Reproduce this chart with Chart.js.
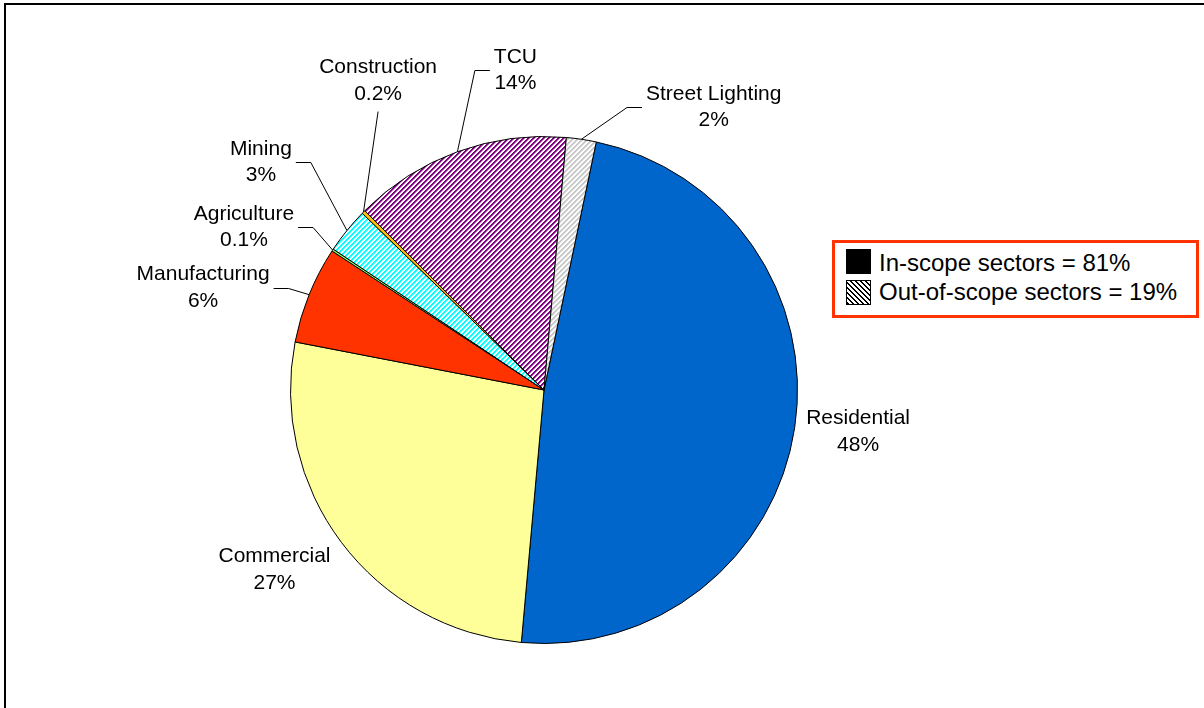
<!DOCTYPE html>
<html><head><meta charset="utf-8">
<script src="https://cdn.jsdelivr.net/npm/chart.js@4/dist/chart.umd.min.js"></script>
<style>
html,body{margin:0;padding:0;width:1204px;height:708px;overflow:hidden;background:#fff;font-family:"Liberation Sans",Arial,sans-serif;}
#frame{position:absolute;left:4px;top:3px;width:1400px;height:900px;border:2px solid #000;box-sizing:border-box}
#chart{position:absolute;left:0;top:0}
#legend{position:absolute;left:832px;top:240px;width:367px;height:78px;border:3px solid #FF3300;box-sizing:border-box;background:#fff}
.sw{position:absolute;left:11px;width:25px;height:25px;box-sizing:border-box;border:1px solid #000}
.lt{position:absolute;left:44px;line-height:28px;height:28px;font-size:24px;color:#000;white-space:nowrap}
</style></head>
<body>
<div id="frame"></div>
<canvas id="chart" width="1204" height="708"></canvas>
<div id="legend">
  <div class="sw" style="top:6px;background:#000"></div>
  <div class="lt" id="lt0" style="top:6px"></div>
  <div class="sw" style="top:37px;background:repeating-linear-gradient(45deg,#000 0 1.6px,#fff 1.6px 3.6px)"></div>
  <div class="lt" id="lt1" style="top:35px"></div>
</div>
<script>
// ---- data ----
const categories = ['Residential','Commercial','Manufacturing','Agriculture','Mining','Construction','TCU','Street Lighting'];
const shares = [48.1, 26.6, 6.2, 0.14, 2.9, 0.22, 13.9, 1.9];
const shareLabels = ['48%','27%','6%','0.1%','3%','0.2%','14%','2%'];
const legendLabels = ['In-scope sectors = 81%','Out-of-scope sectors = 19%'];

// ---- styles ----
function hex(h){return [parseInt(h.slice(1,3),16),parseInt(h.slice(3,5),16),parseInt(h.slice(5,7),16)];}
function stripe(fg, bg, period, dir){
  const c=document.createElement('canvas'); c.width=period; c.height=period;
  const x=c.getContext('2d');
  const img=x.createImageData(period,period);
  const f=hex(fg), b=hex(bg);
  for(let j=0;j<period;j++)for(let i=0;i<period;i++){
    const k=((dir>0?(i+j):(i-j))%period+period)%period;
    const t = k<2?1:(k===2?0.55:0);
    const o=(j*period+i)*4;
    for(let q=0;q<3;q++) img.data[o+q]=Math.round(f[q]*t+b[q]*(1-t));
    img.data[o+3]=255;
  }
  x.putImageData(img,0,0);
  return x.createPattern(c,'repeat');
}
const ctx0=document.getElementById('chart').getContext('2d');
const fills = [
  '#0066CC','#FFFF99','#FF3300','#99FF66',
  stripe('#00FFFF','#FFFFFF',5,1),
  '#FFC000',
  stripe('#800080','#FFFFFF',5,1),
  stripe('#C8C8C8','#FFFFFF',5,1)
];

const labelLayout = [
  {theta:97.6, dist:1.250, leader:'none'},
  {theta:236.3, dist:1.278, leader:'none'},
  {theta:286.7, dist:1.404, leader:'left'},
  {theta:298.5, dist:1.347, leader:'left'},
  {theta:308.8, dist:1.433, leader:'left'},
  {theta:331.8, dist:1.385, leader:'down'},
  {theta:354.9, dist:1.267, leader:'right'},
  {theta:30.97, dist:1.301, leader:'right'}
];

const labelPlugin = {
  id:'sliceLabels',
  afterDatasetsDraw(chart){
    const ctx=chart.ctx; const meta=chart.getDatasetMeta(0);
    ctx.save();
    ctx.font='21px "Liberation Sans", Arial, sans-serif';
    ctx.fillStyle='#000'; ctx.strokeStyle='#000'; ctx.lineWidth=1;
    ctx.textAlign='center'; ctx.textBaseline='middle';
    meta.data.forEach((arc,i)=>{
      const p=arc.getProps(['x','y','startAngle','endAngle','outerRadius'],true);
      const R=p.outerRadius, mid=(p.startAngle+p.endAngle)/2;
      const L=labelLayout[i];
      const a=L.theta*Math.PI/180-Math.PI/2;
      const cx=p.x+L.dist*R*Math.cos(a), cy=p.y+L.dist*R*Math.sin(a);
      const lines=[categories[i], shareLabels[i]];
      const w=Math.max(...lines.map(s=>ctx.measureText(s).width));
      ctx.fillText(lines[0],cx,cy-13.3);
      ctx.fillText(lines[1],cx,cy+13.3);
      const ax=p.x+R*Math.cos(mid), ay=p.y+R*Math.sin(mid);
      const yy=Math.round(cy)+0.5;
      ctx.beginPath();
      if(L.leader==='left'){
        const x1=cx+w/2+4;
        ctx.moveTo(x1,yy); ctx.lineTo(x1+15,yy); ctx.lineTo(ax,ay);
      } else if(L.leader==='right'){
        const x1=cx-w/2-4;
        ctx.moveTo(x1,yy); ctx.lineTo(x1-15,yy); ctx.lineTo(ax,ay);
      } else if(L.leader==='down'){
        ctx.moveTo(cx,cy+31); ctx.lineTo(ax,ay);
      }
      ctx.stroke();
    });
    ctx.restore();
  }
};

document.getElementById('lt0').textContent=legendLabels[0];
document.getElementById('lt1').textContent=legendLabels[1];

new Chart(ctx0,{
  type:'pie',
  data:{labels:categories,datasets:[{data:shares,backgroundColor:fills,borderColor:'#000',borderWidth:1}]},
  options:{
    responsive:false,devicePixelRatio:1,animation:false,
    rotation:11.9,
    layout:{padding:{left:290,right:406,top:136,bottom:64}},
    plugins:{legend:{display:false},tooltip:{enabled:false}}
  },
  plugins:[labelPlugin]
});
</script>
</body></html>
